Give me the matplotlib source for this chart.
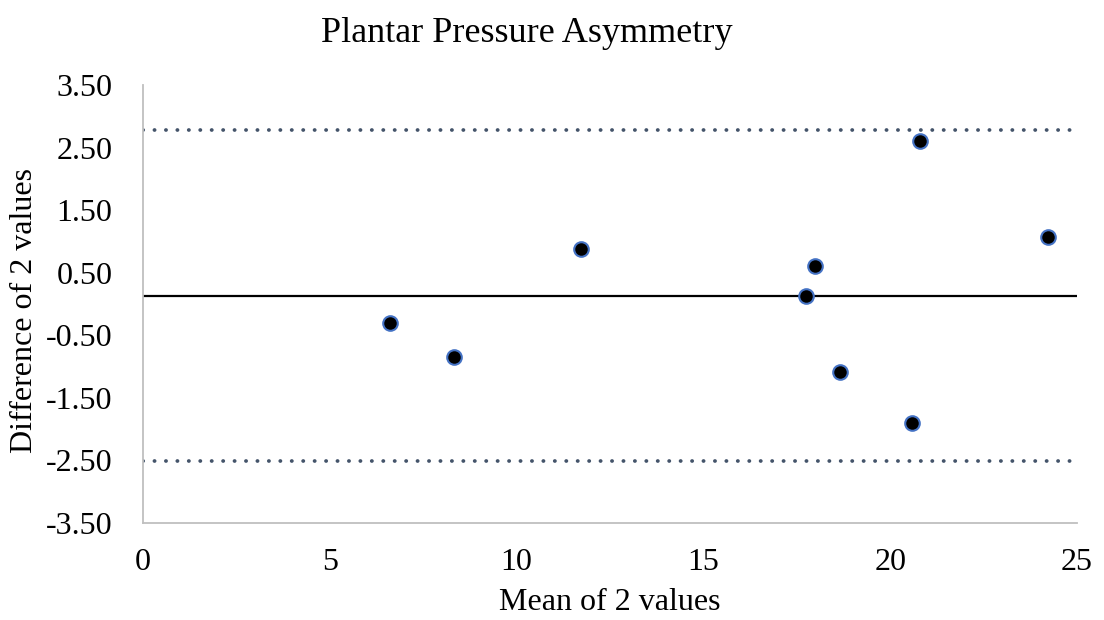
import matplotlib
matplotlib.use("Agg")
import matplotlib.pyplot as plt
from matplotlib.ticker import FormatStrFormatter

# Bland-Altman data: mean of the two measurements vs their difference
mean_vals = [6.61, 8.32, 11.72, 17.75, 17.99, 18.66, 20.58, 20.80, 24.22]
diff_vals = [-0.30, -0.85, 0.88, 0.13, 0.61, -1.08, -1.90, 2.61, 1.07]
bias = 0.13
upper_loa = 2.78
lower_loa = -2.51

x_ticks = [0, 5, 10, 15, 20, 25]
y_ticks = [-3.5, -2.5, -1.5, -0.5, 0.5, 1.5, 2.5, 3.5]

plt.rcParams["font.family"] = ["Liberation Serif", "DejaVu Serif"]

fig = plt.figure(figsize=(11.04, 6.2), dpi=100)
ax = fig.add_axes([0.1295, 0.1565, 0.846, 0.7065])

dots = (0, (0.05, 3.0))
ax.axhline(upper_loa, color="#44546a", lw=2.7, linestyle=dots,
           dash_capstyle="round", zorder=2)
ax.axhline(lower_loa, color="#44546a", lw=2.7, linestyle=dots,
           dash_capstyle="round", zorder=2)
ax.axhline(bias, color="black", lw=1.6, zorder=2)

ax.plot(mean_vals, diff_vals, linestyle="none", marker="o", markersize=10.5,
        markerfacecolor="black", markeredgecolor="#4472c4",
        markeredgewidth=1.5, zorder=3)

ax.set_xlim(0, 25)
ax.set_ylim(-3.5, 3.5)
ax.set_xticks(x_ticks)
ax.set_yticks(y_ticks)
ax.yaxis.set_major_formatter(FormatStrFormatter("%.2f"))
ax.tick_params(length=0, labelsize=23)
ax.tick_params(axis="x", pad=18)
ax.tick_params(axis="y", pad=22)

for side in ("top", "right"):
    ax.spines[side].set_visible(False)
for side in ("left", "bottom"):
    ax.spines[side].set_color("#bfbfbf")
    ax.spines[side].set_linewidth(1.3)

fig.text(0.4774, 0.946, "Plantar Pressure Asymmetry", fontsize=26,
         ha="center", va="center")
ax.set_xlabel("Mean of 2 values", fontsize=23, labelpad=8)
ax.set_ylabel("Difference of 2 values", fontsize=23)
ax.yaxis.set_label_coords(-0.111, 0.484)

fig.savefig("out.png", dpi=100)
